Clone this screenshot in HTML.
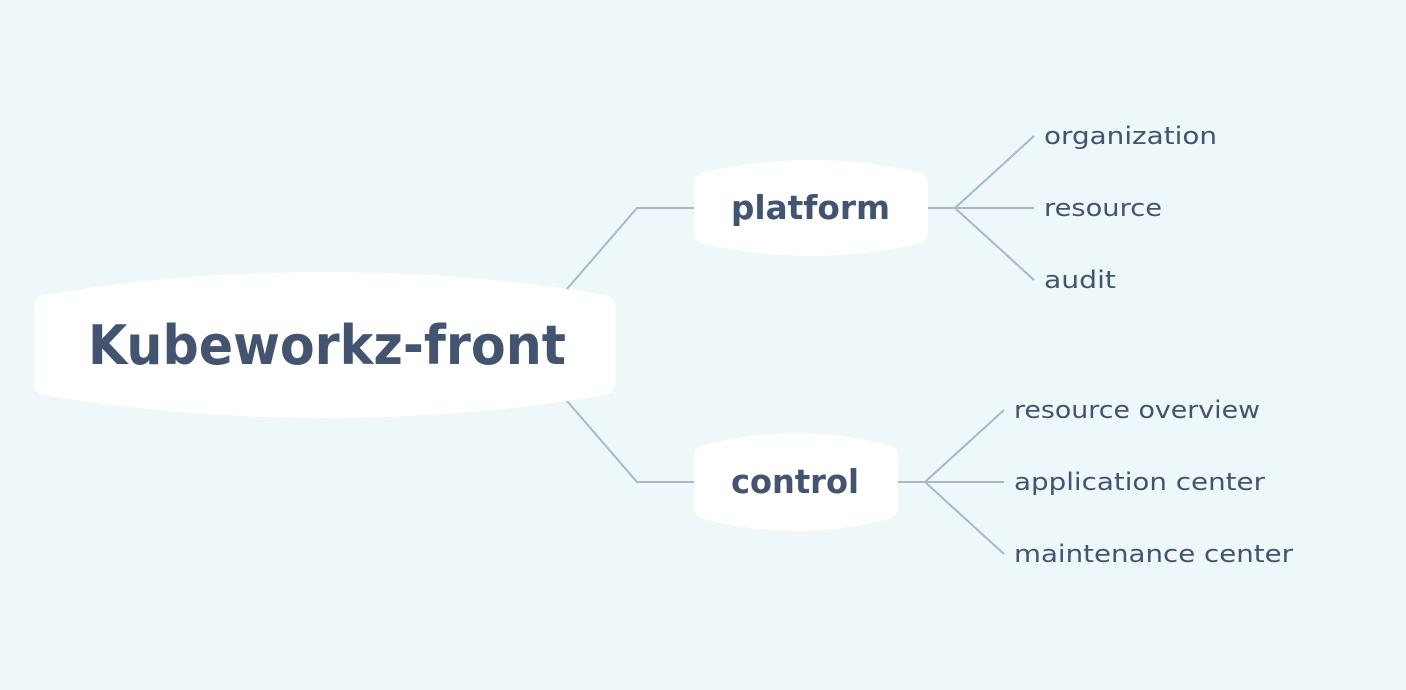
<!DOCTYPE html>
<html><head><style>html,body{margin:0;padding:0;background:#eef7fa;overflow:hidden;}svg{display:block;}</style></head>
<body>
<svg width="1406" height="690" xmlns="http://www.w3.org/2000/svg">
<rect width="1406" height="690" fill="#eef7fa"/>
<g fill="none" stroke="#a7b8c8" stroke-width="2">
<polyline points="567,289 637,208 700,208"/>
<polyline points="567,401 637,482 700,482"/>
<polyline points="925,208 955,208 1034,136"/>
<line x1="955" y1="208" x2="1034" y2="208"/>
<line x1="955" y1="208" x2="1034" y2="280"/>
<polyline points="895,482 925,482 1004,410"/>
<line x1="925" y1="482" x2="1004" y2="482"/>
<line x1="925" y1="482" x2="1004" y2="554"/>
</g>
<g fill="#ffffff">
<path d="M44,295 Q180,272 325,272 Q470,272 605,295 Q615,297 615,307 L615,383 Q615,393 605,395 Q470,418 325,418 Q180,418 44,395 Q34,393 34,383 L34,307 Q34,297 44,295 Z"/>
<path d="M704,172 Q760,160 811,160 Q862,160 918,172 Q928,174 928,184 L928,232 Q928,242 918,244 Q862,256 811,256 Q760,256 704,244 Q694,242 694,232 L694,184 Q694,174 704,172 Z"/>
<path d="M704,445 Q750,433 796,433 Q842,433 888,445 Q898,447 898,457 L898,507 Q898,517 888,519 Q842,531 796,531 Q750,531 704,519 Q694,517 694,507 L694,457 Q694,447 704,445 Z"/>
</g>
<g fill="#435470" font-family="'DejaVu Sans','Liberation Sans',sans-serif" font-weight="bold">
<text x="88" y="364" font-size="54" textLength="478" lengthAdjust="spacingAndGlyphs">Kubeworkz-front</text>
<text x="731" y="219" font-size="33" textLength="159" lengthAdjust="spacingAndGlyphs">platform</text>
<text x="731" y="493" font-size="33" textLength="128" lengthAdjust="spacingAndGlyphs">control</text>
</g>
<g fill="#435470" font-family="'DejaVu Sans','Liberation Sans',sans-serif" font-size="24">
<text x="1044" y="144" textLength="173" lengthAdjust="spacingAndGlyphs">organization</text>
<text x="1044" y="216" textLength="118" lengthAdjust="spacingAndGlyphs">resource</text>
<text x="1044" y="288" textLength="72" lengthAdjust="spacingAndGlyphs">audit</text>
<text x="1014" y="418" textLength="246" lengthAdjust="spacingAndGlyphs">resource overview</text>
<text x="1014" y="490" textLength="251" lengthAdjust="spacingAndGlyphs">application center</text>
<text x="1014" y="562" textLength="279" lengthAdjust="spacingAndGlyphs">maintenance center</text>
</g>
</svg>
</body></html>
